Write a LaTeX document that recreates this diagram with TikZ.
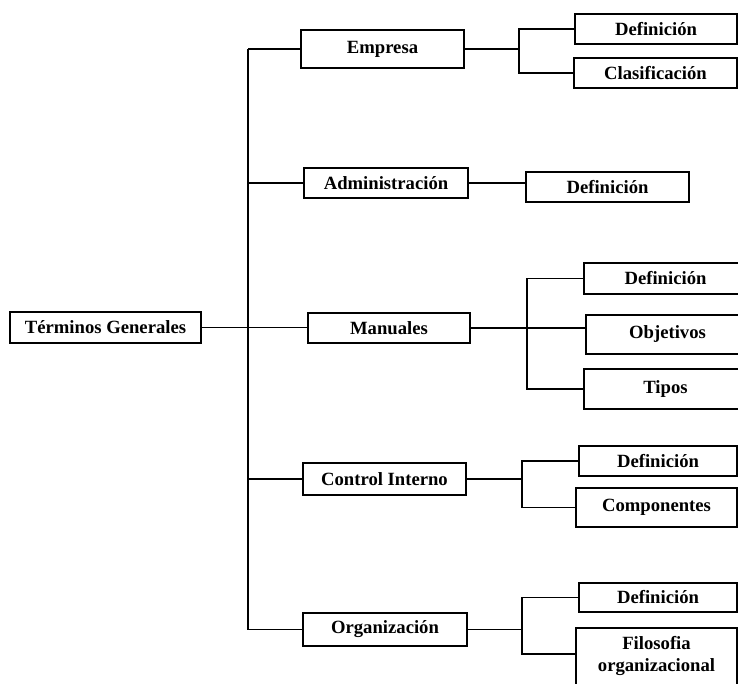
\documentclass[tikz,border=0pt]{standalone}
\usepackage{fontspec}
\setmainfont{Liberation Serif}
\begin{document}
\begin{tikzpicture}[x=0.75pt,y=-0.75pt,
  box/.style={draw,line width=1.1pt,rectangle,inner sep=0pt,align=center,
    font=\fontsize{14}{16.5}\selectfont\bfseries},
  txt/.style={inner sep=0pt,align=center,font=\fontsize{14}{16.5}\selectfont\bfseries},
  link/.style={line width=1.1pt}]
\useasboundingbox (0,0) rectangle (738,683);
\clip (0,0) rectangle (738,683);
\fill[white] (0,0) rectangle (738,683);

% root
\node[box,minimum width=143.25pt,minimum height=23.25pt] (root) at (105.5,327.5) {Términos Generales};

% first level
\node[box,minimum width=122.25pt,minimum height=28.5pt] (emp) at (382.5,49) {Empresa};
\node[box,minimum width=123pt,minimum height=22.5pt] (adm) at (386,183) {Administración};
\node[box,minimum width=121.5pt,minimum height=22.5pt] (man) at (389,328) {Manuales};
\node[box,minimum width=122.25pt,minimum height=24pt] (ci) at (384.5,479) {Control Interno};
\node[box,minimum width=123pt,minimum height=24.75pt] (org) at (385,629.5) {Organización};

% second level
\node[box,minimum width=121.5pt,minimum height=22.5pt] (empDef) at (656,29) {Definición};
\node[box,minimum width=122.25pt,minimum height=22.5pt] (empCla) at (655.5,73) {Clasificación};
\node[box,minimum width=122.25pt,minimum height=22.5pt] (admDef) at (607.5,187) {Definición};
\node[box,minimum width=122.25pt,minimum height=23.25pt] (manDef) at (665.5,278.5) {Definición};
\node[box,minimum width=122.25pt,minimum height=29.25pt] (manObj) at (667.5,334.5) {Objetivos};
\node[box,minimum width=122.25pt,minimum height=30pt] (manTip) at (665.5,389) {Tipos};
\node[box,minimum width=118.5pt,minimum height=22.5pt] (ciDef) at (658,461) {Definición};
\node[box,minimum width=120.75pt,minimum height=29.25pt] (ciCom) at (656.5,507.5) {Componentes};
\node[box,minimum width=118.5pt,minimum height=21.75pt] (orgDef) at (658,597.5) {Definición};
% last box runs past the lower edge of the page
\node[box,minimum width=120.75pt,minimum height=52.5pt] (orgFil) at (656.5,663) {};
\node[txt] (orgFilText) at (656.5,656) {Filosofia\\organizacional};
\coordinate (orgFilIn) at (576,654);

% bracket positions
\coordinate (trunk) at (248,0);
\coordinate (bEmp) at (519,0);
\coordinate (bMan) at (527,0);
\coordinate (bCi) at (522,0);
\coordinate (bOrg) at (522,0);

% root to first level
\draw[link] (root.east) -- (root.east -| man.west);
\draw[link] (emp.west -| trunk) -- (org.west -| trunk);
\foreach \n in {emp,adm,ci,org}
  \draw[link] (\n.west) -- (\n.west -| trunk);

% Empresa
\draw[link] (emp.east) -- (emp.east -| bEmp);
\draw[link] (empDef.west) -- (empDef.west -| bEmp) -- (empCla.west -| bEmp) -- (empCla.west);

% Administración
\draw[link] (adm.east) -- (adm.east -| admDef.west);

% Manuales
\draw[link] (man.east) -- (man.east -| manObj.west);
\draw[link] (manDef.west) -- (manDef.west -| bMan) -- (manTip.west -| bMan) -- (manTip.west);

% Control Interno
\draw[link] (ci.east) -- (ci.east -| bCi);
\draw[link] (ciDef.west) -- (ciDef.west -| bCi) -- (ciCom.west -| bCi) -- (ciCom.west);

% Organización
\draw[link] (org.east) -- (org.east -| bOrg);
\draw[link] (orgDef.west) -- (orgDef.west -| bOrg) -- (orgFilIn -| bOrg) -- (orgFilIn);
\end{tikzpicture}
\end{document}
